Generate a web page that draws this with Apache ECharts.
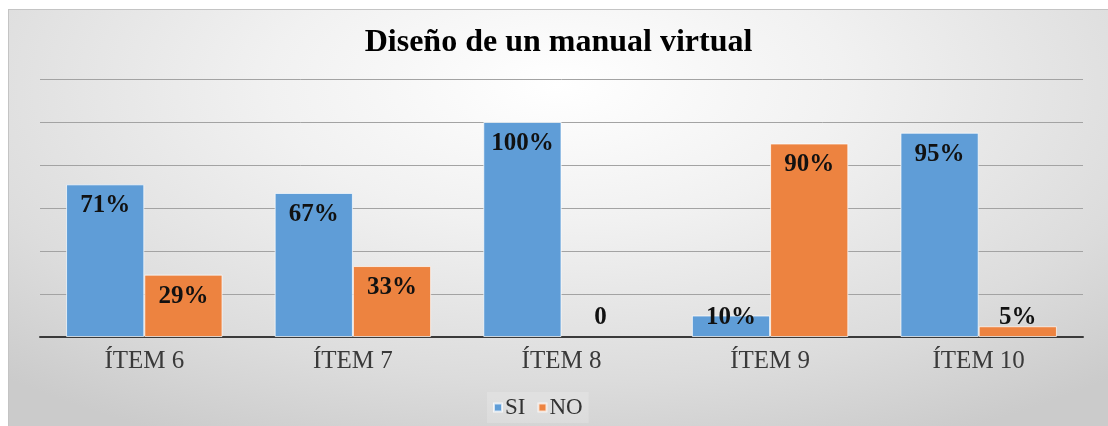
<!DOCTYPE html>
<html>
<head>
<meta charset="utf-8">
<script src="https://cdn.jsdelivr.net/npm/echarts@6/dist/echarts.min.js"></script>
<style>
  html, body { margin: 0; padding: 0; background: #fff; }
  #chart {
    position: absolute;
    left: 8px;
    top: 9px;
    width: 1100px;
    height: 417px;
    box-sizing: border-box;
    border-top: 1px solid #c4c4c4;
    border-left: 1px solid #c4c4c4;
    background: radial-gradient(ellipse 75% 95% at 50% 18%, #ffffff 0%, #f1f1f1 35%, #dcdcdc 75%, #cbcbcb 100%);
  }
</style>
</head>
<body>
<div id="chart"></div>
<script>
const items = ['ÍTEM 6', 'ÍTEM 7', 'ÍTEM 8', 'ÍTEM 9', 'ÍTEM 10']
const si = [71, 67, 100, 10, 95]
const no = [29, 33, 0, 90, 5]

const serif = '"Liberation Serif", "Times New Roman", "DejaVu Serif", serif'
const chart = echarts.init(document.getElementById('chart'))

// small bars get their label above the axis, the rest inside the top of the bar
function withLabels (values) {
  return values.map(v => ({
    value: v,
    itemStyle: v === 0 ? { borderWidth: 0 } : undefined,
    label: v <= 10
      ? { position: 'insideBottom', distance: 7 }
      : { position: 'insideTop', distance: 9 }
  }))
}

const barLabel = {
  show: true,
  fontFamily: serif,
  fontWeight: 'bold',
  fontSize: 25,
  color: '#111',
  formatter: p => (p.value === 0 ? '0' : p.value + '%')
}

chart.setOption({
  title: {
    text: 'Diseño de un manual virtual',
    left: 'center',
    top: 12,
    textStyle: {
      fontFamily: serif,
      fontWeight: 'bold',
      fontSize: 32,
      color: '#000'
    }
  },
  legend: {
    data: ['SI', 'NO'],
    left: 478,
    top: 382,
    itemWidth: 8,
    itemHeight: 8,
    itemGap: 12,
    icon: 'rect',
    padding: [4, 6],
    backgroundColor: 'rgba(255,255,255,0.18)',
    textStyle: {
      fontFamily: serif,
      fontSize: 23,
      color: '#333',
      padding: [0, 0, 0, -2]
    }
  },
  grid: {
    left: 31,
    right: 25,
    top: 69,
    bottom: 89
  },
  xAxis: {
    type: 'category',
    data: items,
    axisTick: { show: false },
    axisLine: { lineStyle: { color: '#3a3a3a', width: 2 } },
    axisLabel: {
      margin: 12,
      fontFamily: serif,
      fontSize: 25,
      color: '#3a3a3a'
    }
  },
  yAxis: {
    type: 'value',
    min: 0,
    max: 120,
    interval: 20,
    axisLabel: { show: false },
    axisLine: { show: false },
    axisTick: { show: false },
    splitLine: { lineStyle: { color: '#a3a3a3', width: 1 } }
  },
  series: [
    {
      name: 'SI',
      type: 'bar',
      data: withLabels(si),
      barGap: '0%',
      barCategoryGap: '25%',
      itemStyle: { color: '#5f9dd7', borderColor: 'rgba(255,255,255,0.7)', borderWidth: 1 },
      label: barLabel
    },
    {
      name: 'NO',
      type: 'bar',
      data: withLabels(no),
      itemStyle: { color: '#ed8340', borderColor: 'rgba(255,255,255,0.7)', borderWidth: 1 },
      label: barLabel
    }
  ]
})
</script>
</body>
</html>
